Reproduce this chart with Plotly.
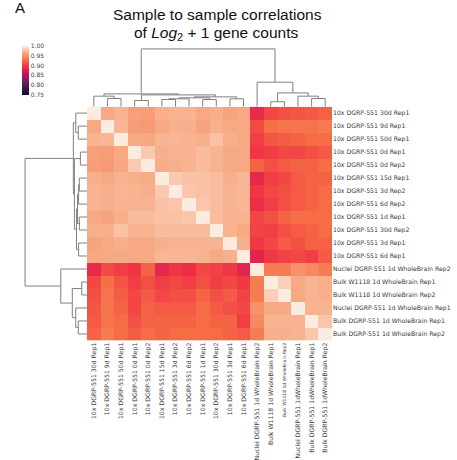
import numpy as np
import plotly.graph_objects as go

row_labels = [
    "10x DGRP-551 30d Rep1", "10x DGRP-551 9d Rep1", "10x DGRP-551 50d Rep1",
    "10x DGRP-551 0d Rep1", "10x DGRP-551 0d Rep2", "10x DGRP-551 15d Rep1",
    "10x DGRP-551 3d Rep2", "10x DGRP-551 6d Rep2", "10x DGRP-551 1d Rep1",
    "10x DGRP-551 30d Rep2", "10x DGRP-551 3d Rep1", "10x DGRP-551 6d Rep1",
    "Nuclei DGRP-551 1d WholeBrain Rep2", "Bulk W1118 1d WholeBrain Rep1",
    "Bulk W1118 1d WholeBrain Rep2", "Nuclei DGRP-551 1d WholeBrain Rep1",
    "Bulk DGRP-551 1d WholeBrain Rep1", "Bulk DGRP-551 1d WholeBrain Rep2",
]

col_labels = [
    "10x DGRP-551 30d Rep1", "10x DGRP-551 9d Rep1", "10x DGRP-551 50d Rep1",
    "10x DGRP-551 0d Rep1", "10x DGRP-551 0d Rep2", "10x DGRP-551 15d Rep1",
    "10x DGRP-551 3d Rep2", "10x DGRP-551 6d Rep2", "10x DGRP-551 1d Rep1",
    "10x DGRP-551 30d Rep2", "10x DGRP-551 3d Rep1", "10x DGRP-551 6d Rep1",
    "Nuclei DGRP-551 1d WholeBrain Rep2", "Bulk W1118 1d WholeBrain Rep1",
    "Bulk W1118 1d WholeBrain Rep2", "Nuclei DGRP-551 1dWholeBrain Rep1",
    "Bulk DGRP-551 1dWholeBrain Rep1", "Bulk DGRP-551 1dWholeBrain Rep2",
]

block_10x = [
    [1.000, 0.965, 0.970, 0.960, 0.958, 0.968, 0.970, 0.970, 0.965, 0.968, 0.962, 0.965],
    [0.965, 1.000, 0.972, 0.957, 0.955, 0.965, 0.968, 0.968, 0.962, 0.968, 0.965, 0.965],
    [0.970, 0.972, 1.000, 0.965, 0.964, 0.970, 0.972, 0.970, 0.968, 0.978, 0.968, 0.965],
    [0.960, 0.957, 0.965, 1.000, 0.982, 0.968, 0.970, 0.970, 0.975, 0.970, 0.965, 0.965],
    [0.958, 0.955, 0.964, 0.982, 1.000, 0.966, 0.968, 0.970, 0.975, 0.970, 0.965, 0.965],
    [0.968, 0.965, 0.970, 0.968, 0.966, 1.000, 0.982, 0.978, 0.978, 0.975, 0.968, 0.972],
    [0.970, 0.968, 0.972, 0.970, 0.968, 0.982, 1.000, 0.980, 0.978, 0.975, 0.970, 0.972],
    [0.970, 0.968, 0.970, 0.970, 0.970, 0.978, 0.980, 1.000, 0.980, 0.975, 0.970, 0.972],
    [0.965, 0.962, 0.968, 0.975, 0.975, 0.978, 0.978, 0.980, 1.000, 0.975, 0.970, 0.970],
    [0.968, 0.968, 0.978, 0.970, 0.970, 0.975, 0.975, 0.975, 0.975, 1.000, 0.970, 0.965],
    [0.962, 0.965, 0.968, 0.965, 0.965, 0.968, 0.970, 0.970, 0.970, 0.970, 1.000, 0.968],
    [0.965, 0.965, 0.965, 0.965, 0.965, 0.972, 0.972, 0.972, 0.970, 0.965, 0.968, 1.000],
]

cross = [
    [0.888, 0.907, 0.912, 0.915, 0.917, 0.922],
    [0.909, 0.929, 0.932, 0.932, 0.932, 0.936],
    [0.902, 0.914, 0.919, 0.922, 0.927, 0.927],
    [0.897, 0.902, 0.907, 0.907, 0.912, 0.917],
    [0.922, 0.912, 0.917, 0.922, 0.922, 0.927],
    [0.886, 0.902, 0.907, 0.917, 0.922, 0.922],
    [0.897, 0.907, 0.912, 0.917, 0.922, 0.927],
    [0.892, 0.902, 0.912, 0.917, 0.922, 0.927],
    [0.907, 0.912, 0.922, 0.927, 0.927, 0.927],
    [0.905, 0.902, 0.912, 0.917, 0.922, 0.927],
    [0.899, 0.907, 0.917, 0.912, 0.922, 0.922],
    [0.882, 0.899, 0.905, 0.907, 0.902, 0.917],
]

block_other = [
    [1.000, 0.937, 0.937, 0.950, 0.945, 0.937],
    [0.937, 1.000, 0.985, 0.965, 0.970, 0.968],
    [0.937, 0.985, 1.000, 0.965, 0.970, 0.968],
    [0.950, 0.965, 0.965, 1.000, 0.970, 0.970],
    [0.945, 0.970, 0.970, 0.970, 1.000, 0.980],
    [0.937, 0.968, 0.968, 0.970, 0.980, 1.000],
]

# linkage: (left id, right id, height); leaves 0..17, new clusters from 18
merges = [
    (16, 17, 0.083), (15, 18, 0.107), (13, 14, 0.050), (20, 19, 0.140),
    (12, 21, 0.250), (1, 2, 0.083), (0, 23, 0.107), (3, 4, 0.063),
    (5, 6, 0.073), (26, 7, 0.080), (8, 9, 0.073), (27, 28, 0.090),
    (10, 11, 0.080), (29, 30, 0.100), (25, 31, 0.120), (24, 32, 0.130),
    (33, 22, 0.590),
]

cbar_ticks = [0.75, 0.80, 0.85, 0.90, 0.95, 1.00]

rocket = [
    [0.0, "#0d0a25"], [1 / 7, "#3a1a48"], [2 / 7, "#7a1d5c"], [3 / 7, "#c0145e"],
    [4 / 7, "#ef2d45"], [5 / 7, "#f66f45"], [6 / 7, "#f7a882"], [1.0, "#fcebdf"],
]

W, H = 457, 460
def fx(px):
    return px / W
def fy(py):
    return 1 - py / H

A = np.array(block_10x)
C = np.array(cross)
B = np.array(block_other)
z = np.block([[A, C], [C.T, B]])
n = len(row_labels)
idx = list(range(n))

col_text = [
    ('<span style="font-size:4.5px">%s</span>' % t) if i == 14 else t
    for i, t in enumerate(col_labels)
]

fig = go.Figure()
fig.add_trace(go.Heatmap(
    z=z, x=idx, y=idx, colorscale=rocket, zmin=0.75, zmax=1.0,
    xaxis="x", yaxis="y", hoverinfo="skip",
    colorbar=dict(
        x=fx(22), xanchor="left", y=fy(47), yanchor="top",
        len=50 / H, lenmode="fraction", thickness=7, thicknessmode="pixels",
        outlinewidth=0, xpad=0, ypad=0,
        tickvals=cbar_ticks, ticktext=["%.2f" % t for t in cbar_ticks],
        tickfont=dict(size=6, color="#444", family="DejaVu Sans"), ticks="",
    ),
))

pos = {i: float(i) for i in range(n)}
hgt = {i: 0.0 for i in range(n)}
xs, ys = [], []
for k, (a, b, h) in enumerate(merges):
    cid = n + k
    xs += [pos[a], pos[a], pos[b], pos[b], None]
    ys += [hgt[a], h, h, hgt[b], None]
    pos[cid] = (pos[a] + pos[b]) / 2
    hgt[cid] = h

line = dict(color="#808080", width=1)
fig.add_trace(go.Scatter(x=xs, y=ys, mode="lines", line=line, xaxis="x2", yaxis="y2",
                         hoverinfo="skip", showlegend=False))
fig.add_trace(go.Scatter(x=ys, y=xs, mode="lines", line=line, xaxis="x3", yaxis="y3",
                         hoverinfo="skip", showlegend=False))

tickfont = dict(size=6.2, color="#3a3a3a", family="DejaVu Sans")
fig.update_layout(
    width=W, height=H, margin=dict(l=0, r=0, t=0, b=0),
    paper_bgcolor="white", plot_bgcolor="white", showlegend=False,
    xaxis=dict(domain=[fx(87), fx(332)], range=[-0.5, n - 0.5], tickvals=idx, ticktext=col_text,
               tickangle=-90, tickfont=tickfont, showgrid=False, zeroline=False, ticks="",
               showline=False, anchor="y"),
    yaxis=dict(domain=[fy(348), fy(109)], range=[n - 0.5, -0.5], tickvals=idx, ticktext=row_labels,
               side="right", tickfont=tickfont, showgrid=False, zeroline=False, ticks="",
               showline=False, anchor="x"),
    xaxis2=dict(domain=[fx(87), fx(332)], range=[-0.5, n - 0.5], visible=False, anchor="y2"),
    yaxis2=dict(domain=[fy(109), fy(49)], range=[0, 0.60], visible=False, anchor="x2"),
    xaxis3=dict(domain=[fx(24), fx(87)], range=[0.60, 0], visible=False, anchor="y3"),
    yaxis3=dict(domain=[fy(348), fy(109)], range=[n - 0.5, -0.5], visible=False, anchor="x3"),
    annotations=[
        dict(text="Sample to sample correlations", x=fx(217), y=fy(15), xref="paper", yref="paper",
             showarrow=False, xanchor="center", yanchor="middle",
             font=dict(size=15.5, color="#111", family="Liberation Sans")),
        dict(text="of <i>Log</i><sub>2</sub> + 1 gene counts", x=fx(216), y=fy(34), xref="paper",
             yref="paper", showarrow=False, xanchor="center", yanchor="middle",
             font=dict(size=15.5, color="#111", family="Liberation Sans")),
        dict(text="A", x=fx(13), y=fy(8), xref="paper", yref="paper", showarrow=False,
             xanchor="left", yanchor="middle", font=dict(size=15, color="#111", family="Liberation Sans")),
    ],
)

fig.write_html(
    "out.html",
    config={"displayModeBar": False},
    post_script="document.body.style.margin='0';document.body.style.overflow='hidden';",
)
